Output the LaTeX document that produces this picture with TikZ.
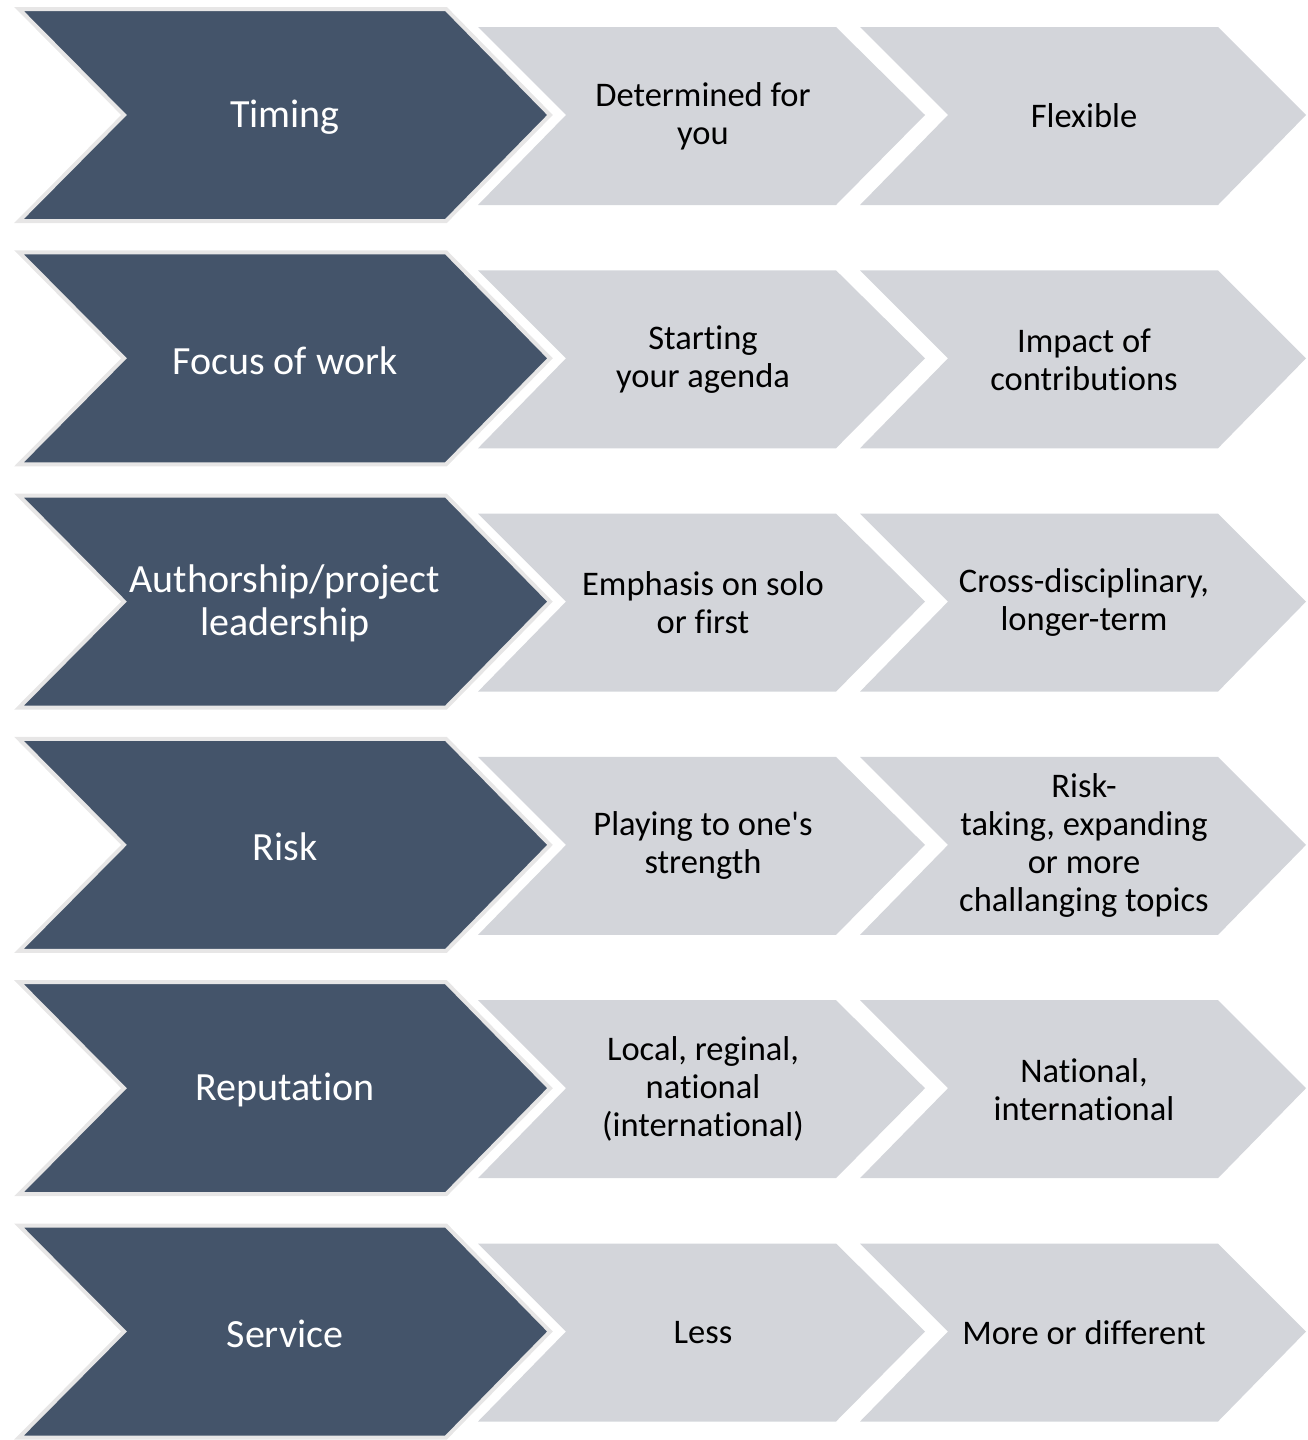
\documentclass[tikz,border=0pt]{standalone}
\usepackage{fontspec}
\newfontfamily\calibri{Carlito}[RawFeature={-liga;-clig;-calt}]
\definecolor{slate}{HTML}{44546A}
\definecolor{pale}{HTML}{D3D5DA}
\definecolor{rim}{HTML}{E7E6E6}
\tikzset{
  leadbox/.style={fill=slate, draw=rim, line width=4pt, line join=miter},
  cellbox/.style={fill=pale},
  leadtext/.style={text=white, align=center, font=\calibri\fontsize{40}{43}\selectfont},
  celltext/.style={text=black, align=center, font=\calibri\fontsize{34.5}{38}\selectfont}
}
\begin{document}
\begin{tikzpicture}[x=1pt, y=-1pt]
  \useasboundingbox (0,0) rectangle (1307,1440);

  % chevrons, one row each
  \foreach \r in {0,...,5} {
    \pgfmathsetmacro{\c}{115+243.3*\r}
    % dark chevron
    \draw[leadbox] (19,\c-106) -- (446,\c-106) -- (550,\c) -- (446,\c+106)
                   -- (19,\c+106) -- (124,\c) -- cycle;
    % first grey chevron
    \fill[cellbox] (478,\c-88) -- (836,\c-88) -- (925,\c) -- (836,\c+90)
                   -- (478,\c+90) -- (566,\c) -- cycle;
    % second grey chevron
    \fill[cellbox] (860,\c-88) -- (1218,\c-88) -- (1306,\c) -- (1218,\c+90)
                   -- (860,\c+90) -- (948,\c) -- cycle;
  }

  % row labels
  \node[leadtext] (lead1) at (285,117)    {Timing};
  \node[leadtext] (lead2) at (285,360.3)  {Focus of work};
  \node[leadtext] (lead3) at (285,603.6)  {Authorship/project\\leadership};
  \node[leadtext] (lead4) at (285,846.9)  {Risk};
  \node[leadtext] (lead5) at (285,1090.2) {Reputation};
  \node[leadtext] (lead6) at (285,1333.5) {Service};

  % middle column
  \node[celltext] (mid1) at (703,116)    {Determined for\\you};
  \node[celltext] (mid2) at (703,359.3)  {Starting\\your agenda};
  \node[celltext] (mid3) at (703,602.6)  {Emphasis on solo\\or first};
  \node[celltext] (mid4) at (703,845.9)  {Playing to one's\\strength};
  \node[celltext] (mid5) at (703,1089.2) {Local, reginal,\\national\\(international)};
  \node[celltext] (mid6) at (703,1332.5) {Less};

  % right column
  \node[celltext] (end1) at (1084,116)    {Flexible};
  \node[celltext] (end2) at (1084,359.3)  {Impact of\\contributions};
  \node[celltext] (end3) at (1084,602.6)  {Cross-disciplinary,\\longer-term};
  \node[celltext] (end4) at (1084,845.9)  {Risk-\\taking, expanding\\or more\\challanging topics};
  \node[celltext] (end5) at (1084,1089.2) {National,\\international};
  \node[celltext] (end6) at (1084,1332.5) {More or different};

\end{tikzpicture}
\end{document}
